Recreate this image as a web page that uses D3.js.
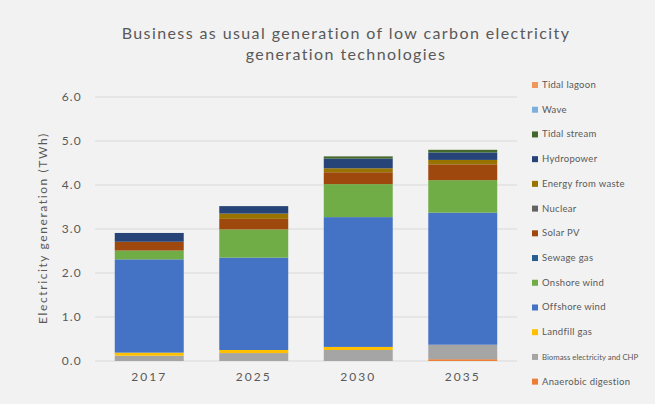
<!DOCTYPE html>
<html>
<head>
<meta charset="utf-8">
<script src="https://cdn.jsdelivr.net/npm/d3@7"></script>
<style>
  html, body { margin: 0; padding: 0; background: #F2F2F2; }
  svg { display: block; }
  text { font-family: Lato, "Liberation Sans", sans-serif; fill: #595959; }
</style>
</head>
<body>
<svg id="chart" width="655" height="404"></svg>
<script>
const categories = ["2017", "2025", "2030", "2035"];
const seriesNames = [
  "Anaerobic digestion",
  "Biomass electricity and CHP",
  "Landfill gas",
  "Offshore wind",
  "Onshore wind",
  "Sewage gas",
  "Solar PV",
  "Nuclear",
  "Energy from waste",
  "Hydropower",
  "Tidal stream",
  "Wave",
  "Tidal lagoon"
];
const anaerobicDigestion = [0, 0, 0, 0.04];
const biomassElectricity = [0.12, 0.18, 0.25, 0.33];
const landfillGas        = [0.07, 0.07, 0.07, 0];
const offshoreWind       = [2.12, 2.10, 2.95, 3.00];
const onshoreWind        = [0.20, 0.64, 0.75, 0.74];
const sewageGas          = [0, 0, 0, 0];
const solarPV            = [0.20, 0.24, 0.27, 0.36];
const nuclear            = [0, 0, 0, 0];
const energyFromWaste    = [0, 0.12, 0.09, 0.10];
const hydropower         = [0.20, 0.17, 0.22, 0.17];
const tidalStream        = [0, 0, 0.05, 0.06];
const wave               = [0, 0, 0, 0];
const tidalLagoon        = [0, 0, 0, 0];
const seriesValues = [anaerobicDigestion, biomassElectricity, landfillGas, offshoreWind,
  onshoreWind, sewageGas, solarPV, nuclear, energyFromWaste, hydropower, tidalStream, wave, tidalLagoon];
const seriesColors = ["#ED7D31", "#A5A5A5", "#FFC000", "#4472C4", "#70AD47", "#255E91",
  "#9E480E", "#636363", "#997300", "#264478", "#43682B", "#7CAFDD", "#F1975A"];
const yTicks = [0, 1, 2, 3, 4, 5, 6];
const titleLines = ["Business as usual generation of low carbon electricity", "generation technologies"];
const yAxisTitle = "Electricity generation (TWh)";

const table = categories.map((c, i) => {
  const row = { category: c };
  seriesNames.forEach((s, j) => { row[s] = seriesValues[j][i]; });
  return row;
});

const svg = d3.select("#chart");
const x = d3.scaleBand().domain(categories).range([97, 515]).paddingInner(0.34).paddingOuter(0.17);
const y = d3.scaleLinear().domain([0, 6]).range([361, 97]);

// gridlines
svg.append("g").selectAll("line").data(yTicks).join("line")
  .attr("x1", 95).attr("x2", 517)
  .attr("y1", d => y(d)).attr("y2", d => y(d))
  .attr("stroke", "#D9D9D9").attr("stroke-width", 1);

// y axis labels
const yAxis = d3.axisLeft(y).tickValues(yTicks).tickFormat(d3.format(".1f")).tickSize(0).tickPadding(0);
const yg = svg.append("g").attr("transform", "translate(82,0)").call(yAxis);
yg.select(".domain").remove();
yg.selectAll("text").style("font-size", "12px").style("letter-spacing", "1.2px")
  .attr("fill", "#595959").style("font-family", "Lato, sans-serif");

// x axis labels
const xAxis = d3.axisBottom(x).tickSize(0).tickPadding(0);
const xg = svg.append("g").attr("transform", "translate(0,372)").call(xAxis);
xg.select(".domain").remove();
xg.selectAll("text").style("font-size", "12px").style("letter-spacing", "2px")
  .attr("fill", "#595959").style("font-family", "Lato, sans-serif");

// stacked bars
const stack = d3.stack().keys(seriesNames);
const stacked = stack(table);
svg.append("g").selectAll("g").data(stacked).join("g")
  .attr("fill", (d, i) => seriesColors[i])
  .selectAll("rect").data(d => d).join("rect")
  .attr("x", d => x(d.data.category))
  .attr("width", x.bandwidth())
  .attr("y", d => y(d[1]))
  .attr("height", d => Math.max(0, y(d[0]) - y(d[1])));

// title
svg.append("g").selectAll("text").data(titleLines).join("text")
  .attr("x", 346).attr("y", (d, i) => 39 + i * 21)
  .attr("text-anchor", "middle")
  .style("font-size", "16px")
  .style("letter-spacing", "1.4px")
  .text(d => d);

// y axis title
svg.append("text")
  .attr("transform", "translate(47,228) rotate(-90)")
  .attr("text-anchor", "middle")
  .style("font-size", "12px")
  .style("letter-spacing", "1.6px")
  .text(yAxisTitle);

// legend (reverse order, top = last series)
const legendItems = seriesNames.map((n, i) => ({ name: n, color: seriesColors[i] })).reverse();
const lg = svg.append("g").selectAll("g").data(legendItems).join("g")
  .attr("transform", (d, i) => `translate(532,${85 + i * 24.72})`);
lg.append("rect").attr("x", 0).attr("y", -3).attr("width", 6).attr("height", 6).attr("fill", d => d.color);
const lt = lg.append("text").attr("x", 10).attr("y", 3).style("font-size", "9.5px").style("letter-spacing", "0.3px").text(d => d.name);
const maxW = 104;
lt.each(function() {
  const w = this.getComputedTextLength();
  if (w > maxW) {
    const fs = Math.floor(9.5 * maxW / w * 10) / 10;
    d3.select(this).style("letter-spacing", "0px").style("font-size", fs + "px");
  }
});
</script>
</body>
</html>
